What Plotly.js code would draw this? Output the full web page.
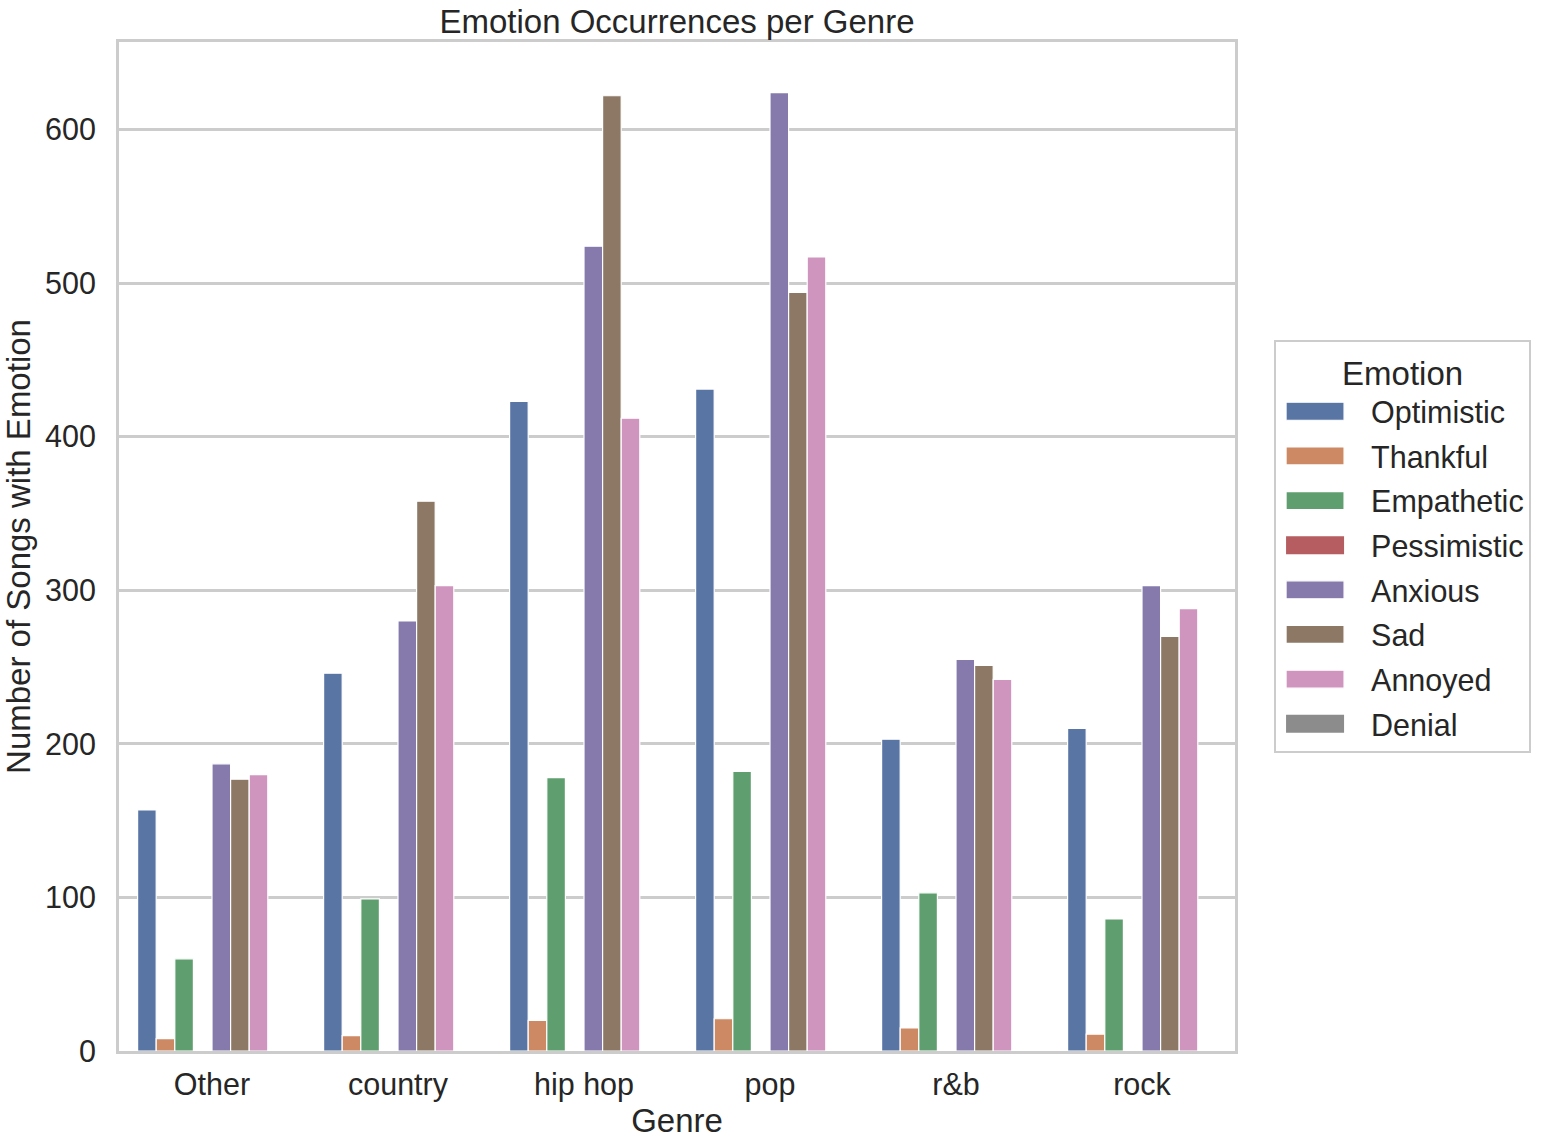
<!DOCTYPE html>
<html>
<head>
<meta charset="utf-8">
<script src="https://cdn.plot.ly/plotly-3.0.1.min.js"></script>
<style>html,body{margin:0;padding:0;background:#fff;}#chart{width:1545px;height:1148px;}</style>
</head>
<body>
<div id="chart"></div>
<script>
const genres = ["Other", "country", "hip hop", "pop", "r&b", "rock"];
const emotions = ["Optimistic", "Thankful", "Empathetic", "Pessimistic", "Anxious", "Sad", "Annoyed", "Denial"];
const optimistic  = [157, 246, 423, 431, 203, 210];
const thankful    = [8, 10, 20, 21, 15, 11];
const empathetic  = [60, 99, 178, 182, 103, 86];
const pessimistic = [0, 0, 0, 0, 0, 0];
const anxious     = [187, 280, 524, 624, 255, 303];
const sad         = [177, 358, 622, 494, 251, 270];
const annoyed     = [180, 303, 412, 517, 242, 288];
const denial      = [0, 0, 0, 0, 0, 0];
const seriesValues = [optimistic, thankful, empathetic, pessimistic, anxious, sad, annoyed, denial];
const colors = ["#5975a4", "#cc8963", "#5f9e6e", "#b55d60", "#857aab", "#8d7866", "#d095bf", "#8c8c8c"];

const FONT = "Liberation Sans, Arial, sans-serif";
const TXT = "#262626";

const traces = emotions.map((name, i) => ({
  type: "bar",
  name: name,
  x: genres,
  y: seriesValues[i],
  legendgroup: name,
  marker: {color: colors[i], line: {color: "#ffffff", width: seriesValues[i].some(v => v > 0) ? 1.2 : 0}},
  hoverinfo: "x+y+name"
}));

const layout = {
  width: 1545, height: 1148,
  paper_bgcolor: "#ffffff", plot_bgcolor: "#ffffff",
  margin: {l: 119, r: 310, t: 42, b: 97, pad: 0},
  font: {family: FONT, color: TXT, size: 30},
  title: {text: "Emotion Occurrences per Genre", font: {family: FONT, size: 33, color: TXT},
          x: 0.5, xref: "paper", xanchor: "center", y: 0.981, yref: "container", yanchor: "middle"},
  barmode: "group", bargap: 0.2, bargroupgap: 0,
  xaxis: {
    type: "category", range: [-0.5, 5.5],
    showgrid: false, zeroline: false,
    showline: true, linecolor: "#cccccc", linewidth: 3, mirror: true,
    ticks: "", tickfont: {family: FONT, size: 30.5, color: TXT},
    ticklabelstandoff: 4,
    title: {text: "Genre", font: {family: FONT, size: 33, color: TXT}, standoff: 2}
  },
  yaxis: {
    range: [0, 657], tickvals: [0, 100, 200, 300, 400, 500, 600],
    showgrid: true, gridcolor: "#cccccc", gridwidth: 3,
    zeroline: false,
    showline: true, linecolor: "#cccccc", linewidth: 3, mirror: true,
    ticks: "", tickfont: {family: FONT, size: 30.5, color: TXT},
    ticklabelstandoff: 14,
    title: {text: "Number of Songs with Emotion", font: {family: FONT, size: 33, color: TXT}, standoff: 10}
  },
  legend: {
    x: 1.035, xanchor: "left", y: 0.5, yanchor: "middle",
    bgcolor: "#ffffff", bordercolor: "#cccccc", borderwidth: 2,
    font: {family: FONT, size: 30.5, color: TXT},
    title: {text: "Emotion", side: "top center", font: {family: FONT, size: 33, color: TXT}},
    traceorder: "grouped", tracegroupgap: 2, itemwidth: 85
  },
  showlegend: true
};

function widenSwatches() {
  document.querySelectorAll("#chart .legend .legendpoints path").forEach(p => {
    p.setAttribute("d", "M20.5,9H-37.5V-9H20.5Z");
  });
}
const gd = document.getElementById("chart");
Plotly.newPlot(gd, traces, layout, {displayModeBar: false, responsive: false}).then(() => {
  widenSwatches();
  gd.on("plotly_afterplot", widenSwatches);
});
</script>
</body>
</html>
